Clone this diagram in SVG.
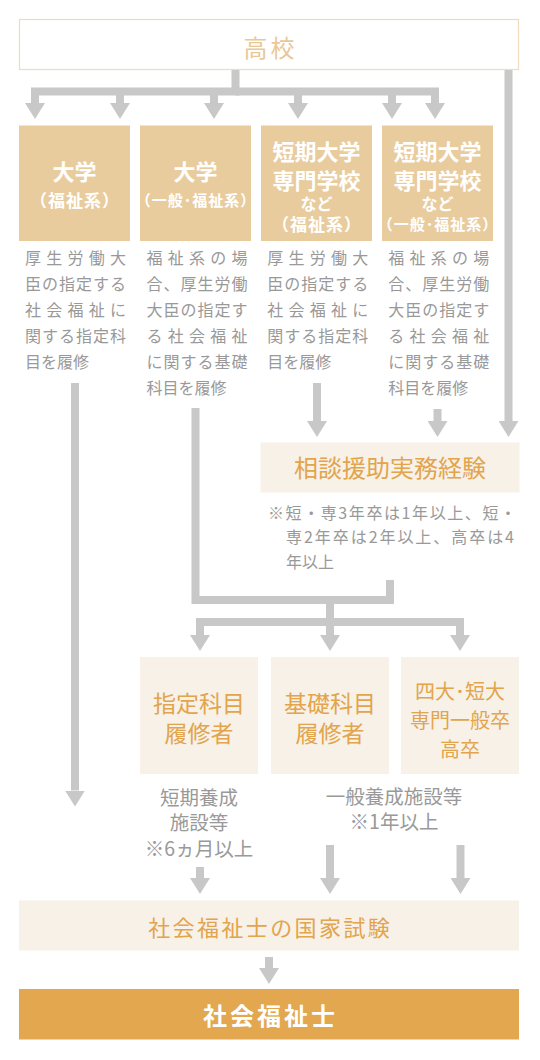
<svg xmlns="http://www.w3.org/2000/svg" width="540" height="1060" viewBox="0 0 540 1060">
<style>
text{font-family:'Noto Sans CJK JP','Noto Sans',sans-serif}
.c{text-anchor:middle}
.tb{fill:#fff;font-weight:700}
.t22{font-size:22px}
.t16b{font-size:16px}
.pf{font-size:17px;letter-spacing:1px}
.pg{font-size:15px;letter-spacing:1px}
.ds{font-size:16px;fill:#999}
.gy{font-size:19.5px;fill:#999}
.or{fill:#e2a44c}
.tan{fill:#e9cc9e}
.cream{fill:#f7f1e7}
.ln{fill:none;stroke:#c8c8c8;stroke-width:8;marker-end:url(#ah)}
.ln0{fill:none;stroke:#c8c8c8;stroke-width:8}
</style>
<defs>
<marker id="ah" viewBox="0 -10 16 20" refX="0" refY="0" markerWidth="16" markerHeight="20" markerUnits="userSpaceOnUse" orient="auto"><path d="M0,-10 L16,0 L0,10 Z" fill="#c8c8c8"/></marker>
</defs>
<rect width="540" height="1060" fill="#fff"/>
<g id="connectors">
<path class="ln" d="M235.5,70 V91.5 H35 V103"/>
<path class="ln" d="M235.5,91.5 H435 V103"/>
<path class="ln" d="M120,91.5 V103"/>
<path class="ln" d="M214,91.5 V103"/>
<path class="ln" d="M298,91.5 V103"/>
<path class="ln" d="M392,91.5 V103"/>
<path class="ln" d="M508.5,70 V421"/>
<path class="ln" d="M317,383 V421"/>
<path class="ln" d="M437.5,409 V421"/>
<path class="ln" d="M75,383 V790.5"/>
<path class="ln0" d="M195.5,408 V600 H390 V580"/>
<path class="ln" d="M330,600 V622 H200 V635"/>
<path class="ln" d="M330,622 H460 V635"/>
<path class="ln" d="M330,622 V635"/>
<path class="ln" d="M200,867 V878"/>
<path class="ln" d="M330,845 V878"/>
<path class="ln" d="M460.5,845 V878"/>
<path class="ln" d="M269,957 V968"/>
</g>
<g id="n-koukou">
<rect x="19.5" y="19.5" width="499" height="50" fill="#fff" stroke="#f0dcbd" stroke-width="1.2"/>
<text x="270.5" y="57" class="c" font-size="24" letter-spacing="3" fill="#e9c896">高校</text>
</g>
<g id="n-univ-fukushi">
<rect class="tan" x="19" y="125.5" width="111" height="115.5"/>
<text x="74.5" y="180.4" class="c tb t22">大学</text>
<text x="75" y="206.5" class="c tb pf">（福祉系）</text>
<text class="ds" x="25" y="264" textLength="101" lengthAdjust="spacing">厚生労働大</text>
<text class="ds" x="25" y="290" textLength="101" lengthAdjust="spacing">臣の指定する</text>
<text class="ds" x="25" y="316" textLength="101" lengthAdjust="spacing">社会福祉に</text>
<text class="ds" x="25" y="342" textLength="101" lengthAdjust="spacing">関する指定科</text>
<text class="ds" x="25" y="368">目を履修</text>
</g>
<g id="n-univ-general">
<rect class="tan" x="140" y="125.5" width="111" height="115.5"/>
<text x="195.5" y="180.4" class="c tb t22">大学</text>
<text x="196" y="205.5" class="c tb pg">（一般･福祉系）</text>
<text class="ds" x="146.5" y="264" textLength="101" lengthAdjust="spacing">福祉系の場</text>
<text class="ds" x="146.5" y="290" textLength="101" lengthAdjust="spacing">合、厚生労働</text>
<text class="ds" x="146.5" y="316" textLength="101" lengthAdjust="spacing">大臣の指定す</text>
<text class="ds" x="146.5" y="342" textLength="101" lengthAdjust="spacing">る社会福祉</text>
<text class="ds" x="146.5" y="368" textLength="101" lengthAdjust="spacing">に関する基礎</text>
<text class="ds" x="146.5" y="394">科目を履修</text>
</g>
<g id="n-junior-fukushi">
<rect class="tan" x="261" y="125.5" width="111" height="115.5"/>
<text x="316.5" y="160.4" class="c tb t22">短期大学</text>
<text x="316.5" y="189.4" class="c tb t22">専門学校</text>
<text x="316.5" y="209.5" class="c tb t16b">など</text>
<text x="317" y="230.5" class="c tb pf">（福祉系）</text>
<text class="ds" x="267.3" y="264" textLength="101" lengthAdjust="spacing">厚生労働大</text>
<text class="ds" x="267.3" y="290" textLength="101" lengthAdjust="spacing">臣の指定する</text>
<text class="ds" x="267.3" y="316" textLength="101" lengthAdjust="spacing">社会福祉に</text>
<text class="ds" x="267.3" y="342" textLength="101" lengthAdjust="spacing">関する指定科</text>
<text class="ds" x="267.3" y="368">目を履修</text>
</g>
<g id="n-junior-general">
<rect class="tan" x="382" y="125.5" width="111" height="115.5"/>
<text x="437.5" y="160.4" class="c tb t22">短期大学</text>
<text x="437.5" y="189.4" class="c tb t22">専門学校</text>
<text x="437.5" y="209.5" class="c tb t16b">など</text>
<text x="438" y="229.8" class="c tb pg">（一般･福祉系）</text>
<text class="ds" x="388.3" y="264" textLength="101" lengthAdjust="spacing">福祉系の場</text>
<text class="ds" x="388.3" y="290" textLength="101" lengthAdjust="spacing">合、厚生労働</text>
<text class="ds" x="388.3" y="316" textLength="101" lengthAdjust="spacing">大臣の指定す</text>
<text class="ds" x="388.3" y="342" textLength="101" lengthAdjust="spacing">る社会福祉</text>
<text class="ds" x="388.3" y="368" textLength="101" lengthAdjust="spacing">に関する基礎</text>
<text class="ds" x="388.3" y="394">科目を履修</text>
</g>
<g id="n-soudan">
<rect class="cream" x="260.5" y="442.5" width="259" height="50"/>
<text x="390" y="476.6" class="c or" font-size="24">相談援助実務経験</text>
<text class="ds" x="268" y="518.6" textLength="248" lengthAdjust="spacing">※短・専3年卒は1年以上、短・</text>
<text class="ds" x="286" y="543" textLength="228" lengthAdjust="spacing">専2年卒は2年以上、高卒は4</text>
<text class="ds" x="286" y="568">年以上</text>
</g>
<g id="n-shitei">
<rect class="cream" x="140" y="657" width="118" height="117"/>
<text x="199" y="712" class="c or" font-size="23">指定科目</text>
<text x="199" y="742" class="c or" font-size="23">履修者</text>
</g>
<g id="n-kiso">
<rect class="cream" x="271" y="657" width="118" height="117"/>
<text x="330" y="712" class="c or" font-size="23">基礎科目</text>
<text x="330" y="742" class="c or" font-size="23">履修者</text>
</g>
<g id="n-ippan">
<rect class="cream" x="401" y="657" width="118" height="117"/>
<text x="460" y="698.5" class="c or" font-size="20">四大･短大</text>
<text x="460" y="727.5" class="c or" font-size="20">専門一般卒</text>
<text x="460" y="756.5" class="c or" font-size="20">高卒</text>
</g>
<g id="n-note-short">
<text x="199" y="805" class="c gy">短期養成</text>
<text x="199" y="830" class="c gy">施設等</text>
<text x="199" y="856" class="c gy">※6ヵ月以上</text>
</g>
<g id="n-note-general">
<text x="394" y="804" class="c gy">一般養成施設等</text>
<text x="394" y="829" class="c gy">※1年以上</text>
</g>
<g id="n-exam">
<rect class="cream" x="19" y="900.5" width="500" height="50"/>
<text x="270.2" y="935.5" class="c or" font-size="22" letter-spacing="2.4">社会福祉士の国家試験</text>
</g>
<g id="n-final">
<rect x="19" y="989" width="500" height="50.5" fill="#e2a74f"/>
<text x="270.5" y="1025" class="c tb" font-size="24" letter-spacing="3">社会福祉士</text>
</g>
</svg>
